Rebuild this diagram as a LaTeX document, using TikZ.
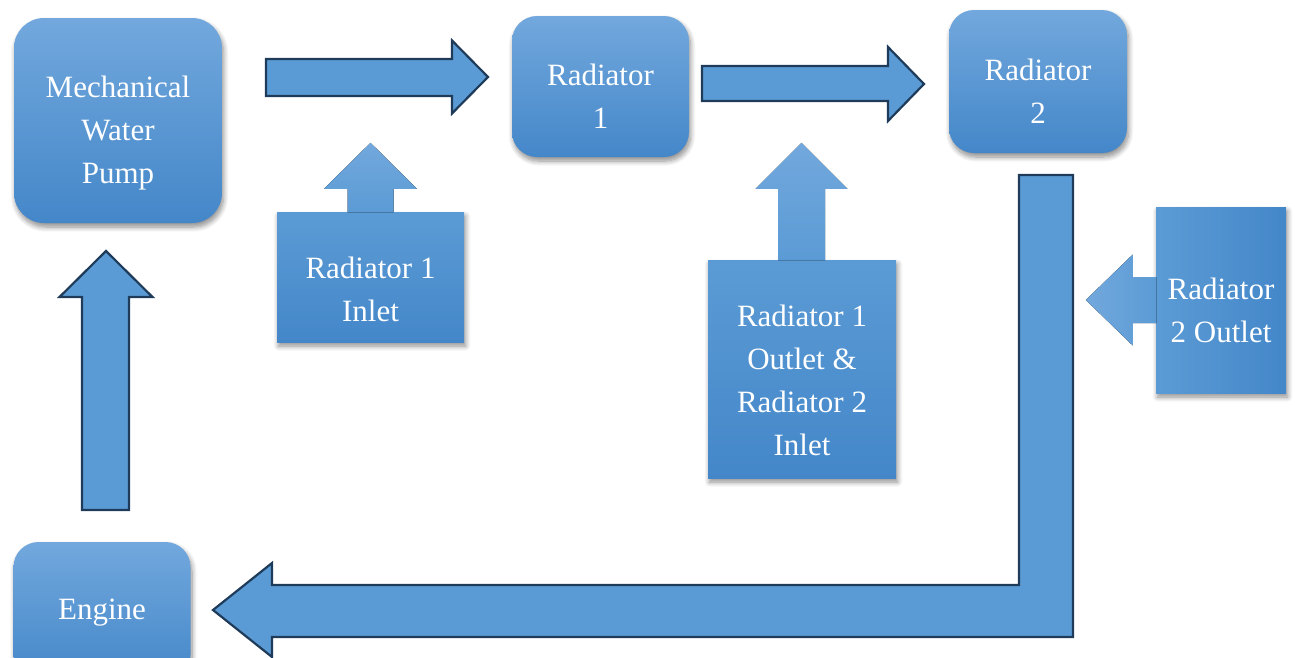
\documentclass[tikz,border=0pt]{standalone}
\usepackage{fontspec}
\setmainfont{Liberation Serif}
\usetikzlibrary{calc,shadows.blur}
\definecolor{boxtop}{HTML}{72A8DD}
\definecolor{flow}{HTML}{5B9BD5}
\definecolor{boxbot}{HTML}{4487C9}
\definecolor{edge}{HTML}{1F3B5A}
\tikzset{
  txt/.style={text=white, font=\fontsize{31}{43}\selectfont, align=center, inner sep=0pt},
  soft/.style={blur shadow={shadow xshift=1.5pt, shadow yshift=-4pt, shadow blur radius=5pt, shadow blur steps=8, shadow opacity=45}},
  rbox/.style={soft, inner sep=0pt, top color=boxtop, middle color=flow, bottom color=boxbot},
  sbox/.style={soft, inner sep=0pt, top color=flow, bottom color=boxbot},
  tipfill/.style={top color=boxtop, bottom color=flow},
  flowarrow/.style={fill=flow, draw=edge, line width=2.2pt, line join=miter},
}
\begin{document}
\begin{tikzpicture}[x=1pt,y=-1pt]
\useasboundingbox (0,0) rectangle (1295,657);
\begin{scope}
\clip (0,0) rectangle (1295,657);

% rounded process boxes
\node[rbox, rounded corners=30pt, minimum width=208pt, minimum height=205pt] (pump) at (118,120.5) {};
\node[rbox, rounded corners=25pt, minimum width=177pt, minimum height=141pt] (rad1) at (600.5,86.5) {};
\node[rbox, rounded corners=25pt, minimum width=178pt, minimum height=143pt] (rad2) at (1038,81.5) {};
\node[rbox, rounded corners=25pt, minimum width=177pt, minimum height=138pt] (engine) at (102,611) {};

% measurement point boxes
\node[sbox, minimum width=187pt, minimum height=130pt] (inlet1) at (370.5,277) {};
\node[sbox, minimum width=188pt, minimum height=218pt] (outlet1) at (802,369) {};
\node[soft, inner sep=0pt, left color=flow, right color=boxbot, minimum width=130pt, minimum height=186pt] (outlet2) at (1221,300) {};

% their pointer arrows, joined to the box edges
\fill[tipfill] ($(inlet1.north)+(-23,0.5)$) -- ++(0,-23.5) -- ++(-23.5,0) -- ++(46.5,-46) -- ++(46.5,46) -- ++(-23.5,0) -- ++(0,23.5) -- cycle;
\fill[tipfill] ($(outlet1.north)+(-24,0.5)$) -- ++(0,-71.5) -- ++(-22.5,0) -- ++(46,-46) -- ++(46,46) -- ++(-22.5,0) -- ++(0,71.5) -- cycle;
\fill[left color=boxtop, right color=flow] ($(outlet2.west)+(0.5,-23)$) -- ++(-23.5,0) -- ++(0,-22.5) -- ++(-47,45.5) -- ++(47,45.5) -- ++(0,-22.5) -- ++(23.5,0) -- cycle;

% box captions
\node[txt] (pump-t) at ($(pump.center)+(0,13)$) {Mechanical\\Water\\Pump};
\node[txt] (rad1-t) at ($(rad1.center)+(0,10)$) {Radiator\\1};
\node[txt] (rad2-t) at ($(rad2.center)+(0,10)$) {Radiator\\2};
\node[txt] (engine-t) at ($(engine.center)+(0,2)$) {Engine};
\node[txt] (inlet1-t) at ($(inlet1.center)+(0,12)$) {Radiator 1\\Inlet};
\node[txt] (outlet1-t) at ($(outlet1.center)+(0,11.5)$) {Radiator 1\\Outlet \&\\Radiator 2\\Inlet};
\node[txt] (outlet2-t) at ($(outlet2.center)+(0,10)$) {Radiator\\2 Outlet};

% coolant flow arrows
\draw[flowarrow] (266,59) -- (452,59) -- (452,40.5) -- (488,77) -- (452,113.5) -- (452,96) -- (266,96) -- cycle;
\draw[flowarrow] (702,66) -- (888,66) -- (888,47) -- (924,84) -- (888,121) -- (888,101) -- (702,101) -- cycle;
\draw[flowarrow] (82,510) -- (82,297) -- (59.5,297) -- (106,251) -- (152.5,297) -- (129,297) -- (129,510) -- cycle;
\draw[flowarrow] (1019,175) -- (1073,175) -- (1073,637) -- (272,637) -- (272,657) -- (213,610) -- (272,563) -- (272,585) -- (1019,585) -- cycle;
\end{scope}
\end{tikzpicture}
\end{document}
